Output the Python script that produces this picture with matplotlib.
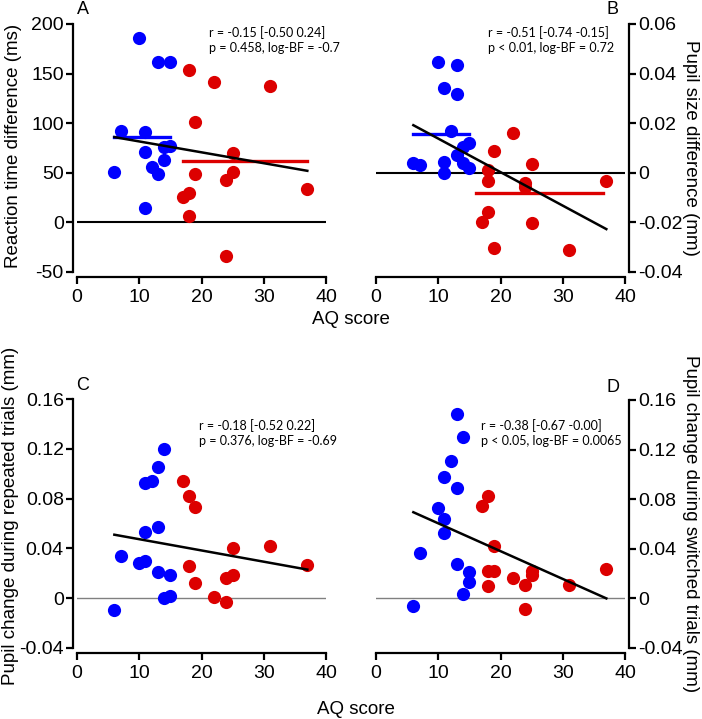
import numpy as np
import matplotlib
matplotlib.use("Agg")
import matplotlib.pyplot as plt

plt.rcParams["font.family"] = ["Liberation Sans", "DejaVu Sans"]

BLUE = "#0000ff"
RED = "#dc0000"

# panel A: reaction time difference (ms)
blue_x_a = [6, 7, 10, 11, 11, 11, 12, 13, 13, 14, 14, 15, 15]
blue_y_a = [51, 92, 186, 91, 71, 15, 56, 162, 49, 63, 76, 162, 77]
red_x_a = [17, 18, 18, 18, 19, 19, 22, 24, 24, 25, 25, 31, 37]
red_y_a = [26, 30, 6, 154, 101, 49, 142, 43, -34, 70, 51, 137, 34]
mean_a = [(6, 15, 86), (17, 37, 62)]
fit_a = [(6, 86), (37, 52)]

# panel B: pupil size difference (mm)
blue_x_b = [6, 7, 10, 11, 11, 11, 12, 13, 13, 13, 14, 14, 15, 15]
blue_y_b = [0.0041, 0.003, 0.0448, 0.034, 0.0044, 0.0, 0.017, 0.0435, 0.0318,
            0.0072, 0.0105, 0.0041, 0.0119, 0.0018]
red_x_b = [17, 18, 18, 18, 19, 19, 22, 24, 24, 25, 25, 31, 37]
red_y_b = [-0.0197, 0.0011, -0.0032, -0.0157, 0.0086, -0.0303, 0.016,
           -0.0042, -0.0058, 0.0035, -0.0201, -0.0313, -0.0035]
mean_b = [(6, 15, 0.0155), (16, 36.4, -0.0083)]
fit_b = [(6, 0.0192), (37, -0.0227)]

# panel C: pupil change during repeated trials (mm)
blue_x_c = [6, 7, 10, 11, 11, 11, 12, 13, 13, 13, 14, 14, 15, 15]
blue_y_c = [-0.0097, 0.034, 0.028, 0.0925, 0.0532, 0.030, 0.094, 0.105,
            0.057, 0.021, 0.120, 0.0002, 0.0186, 0.0015]
red_x_c = [17, 18, 18, 19, 19, 22, 24, 24, 25, 25, 31, 37]
red_y_c = [0.094, 0.082, 0.0256, 0.073, 0.0122, 0.001, -0.003, 0.016,
           0.040, 0.019, 0.042, 0.027]
fit_c = [(6, 0.051), (37, 0.023)]

# panel D: pupil change during switched trials (mm)
blue_x_d = [6, 7, 10, 11, 11, 11, 12, 13, 13, 13, 14, 14, 15, 15]
blue_y_d = [-0.0062, 0.037, 0.073, 0.0977, 0.064, 0.053, 0.111, 0.149,
            0.0888, 0.028, 0.130, 0.0035, 0.021, 0.013]
red_x_d = [17, 18, 18, 18, 19, 19, 22, 24, 24, 25, 25, 31, 37]
red_y_d = [0.0746, 0.0826, 0.0217, 0.0096, 0.0423, 0.0217, 0.0163, 0.0109,
           -0.0087, 0.0224, 0.0185, 0.0109, 0.0236]
fit_d = [(6, 0.0695), (37, 0.0)]

stats_text = [
    "r = -0.15 [-0.50 0.24]\np = 0.458, log-BF = -0.7",
    "r = -0.51 [-0.74 -0.15]\np < 0.01, log-BF = 0.72",
    "r = -0.18 [-0.52 0.22]\np = 0.376, log-BF = -0.69",
    "r = -0.38 [-0.67 -0.00]\np < 0.05, log-BF = 0.0065",
]
ylabels = [
    "Reaction time difference (ms)",
    "Pupil size difference (mm)",
    "Pupil change during repeated trials (mm)",
    "Pupil change during switched trials (mm)",
]


def rect(l, t, r, b):
    return [l / 702, 1 - b / 719, (r - l) / 702, (b - t) / 719]


fig = plt.figure(figsize=(7.02, 7.19), dpi=100)
ax_a = fig.add_axes(rect(77, 24, 326, 272))
ax_b = fig.add_axes(rect(376, 24, 625, 272))
ax_c = fig.add_axes(rect(77, 399, 326, 648))
ax_d = fig.add_axes(rect(376, 400, 625, 648))


def style(ax, side, ylim, yticks, yticklabels):
    ax.set_xlim(0, 40)
    ax.set_ylim(*ylim)
    for s in ["top", "left", "right", "bottom"]:
        ax.spines[s].set_visible(False)
    ax.spines["bottom"].set_visible(True)
    ax.spines[side].set_visible(True)
    ax.spines["bottom"].set_position(("outward", 3.6))
    ax.spines[side].set_position(("outward", 3))
    ax.spines["bottom"].set_bounds(0, 40)
    ax.spines[side].set_bounds(*ylim)
    for s in ["bottom", side]:
        ax.spines[s].set_linewidth(1.6)
    ax.set_xticks([0, 10, 20, 30, 40])
    ax.set_yticks(yticks)
    ax.set_yticklabels(yticklabels)
    if side == "right":
        ax.yaxis.tick_right()
        ax.yaxis.set_label_position("right")
    ax.tick_params(direction="out", length=5, width=1.6, labelsize=14)
    ax.tick_params(axis="x", pad=4)
    ax.tick_params(axis="y", pad=1.5)


def draw(ax, bx, by, rx, ry, fit, zero_style, means=None):
    ax.plot([0, 40], [0, 0], **zero_style, zorder=1)
    ax.plot(bx, by, "o", color=BLUE, ms=9.5, mec="none", zorder=2, clip_on=False)
    ax.plot(rx, ry, "o", color=RED, ms=9.5, mec="none", zorder=2, clip_on=False)
    if means:
        for (x0, x1, y), c in zip(means, [BLUE, RED]):
            ax.plot([x0, x1], [y, y], color=c, lw=2.4, zorder=3)
    ax.plot([fit[0][0], fit[1][0]], [fit[0][1], fit[1][1]], color="black", lw=1.8, zorder=4)


black_zero = dict(color="black", lw=1.5)
gray_zero = dict(color="#808080", lw=1.0)

draw(ax_a, blue_x_a, blue_y_a, red_x_a, red_y_a, fit_a, black_zero, mean_a)
draw(ax_b, blue_x_b, blue_y_b, red_x_b, red_y_b, fit_b, black_zero, mean_b)
draw(ax_c, blue_x_c, blue_y_c, red_x_c, red_y_c, fit_c, gray_zero)
draw(ax_d, blue_x_d, blue_y_d, red_x_d, red_y_d, fit_d, gray_zero)

style(ax_a, "left", (-50, 200), [-50, 0, 50, 100, 150, 200],
      ["-50", "0", "50", "100", "150", "200"])
style(ax_b, "right", (-0.04, 0.06), [-0.04, -0.02, 0, 0.02, 0.04, 0.06],
      ["-0.04", "-0.02", "0", "0.02", "0.04", "0.06"])
c_ticks = [-0.04, 0, 0.04, 0.08, 0.12, 0.16]
c_labels = ["-0.04", "0", "0.04", "0.08", "0.12", "0.16"]
style(ax_c, "left", (-0.04, 0.16), c_ticks, c_labels)
style(ax_d, "right", (-0.04, 0.16), c_ticks, c_labels)

# y labels
fig.text(14 / 702, 1 - 146 / 719, ylabels[0], rotation=90, fontsize=13.5,
         ha="center", va="center")
fig.text(691 / 702, 1 - 148 / 719, ylabels[1], rotation=270, fontsize=13.5,
         ha="center", va="center")
fig.text(11 / 702, 1 - 516 / 719, ylabels[2], rotation=90, fontsize=13.5,
         ha="center", va="center")
fig.text(691 / 702, 1 - 524 / 719, ylabels[3], rotation=270, fontsize=13.5,
         ha="center", va="center")

# x labels
fig.text(351 / 702, 1 - 320 / 719, "AQ score", fontsize=13.5, ha="center", va="center")
fig.text(356 / 702, 1 - 709 / 719, "AQ score", fontsize=13.5, ha="center", va="center")

# panel letters
for lbl, x, y in [("A", 83, 10), ("B", 613, 10), ("C", 83, 386), ("D", 613, 387)]:
    fig.text(x / 702, 1 - y / 719, lbl, fontsize=13, ha="center", va="center")

# stats text
for txt, x, y in [(stats_text[0], 209, 40), (stats_text[1], 488, 40),
                  (stats_text[2], 199, 433), (stats_text[3], 481, 433)]:
    fig.text(x / 702, 1 - y / 719, txt, fontsize=9, ha="left", va="center",
             family=["Lato", "DejaVu Sans"], linespacing=1.25)

fig.savefig("out.png", dpi=100)
